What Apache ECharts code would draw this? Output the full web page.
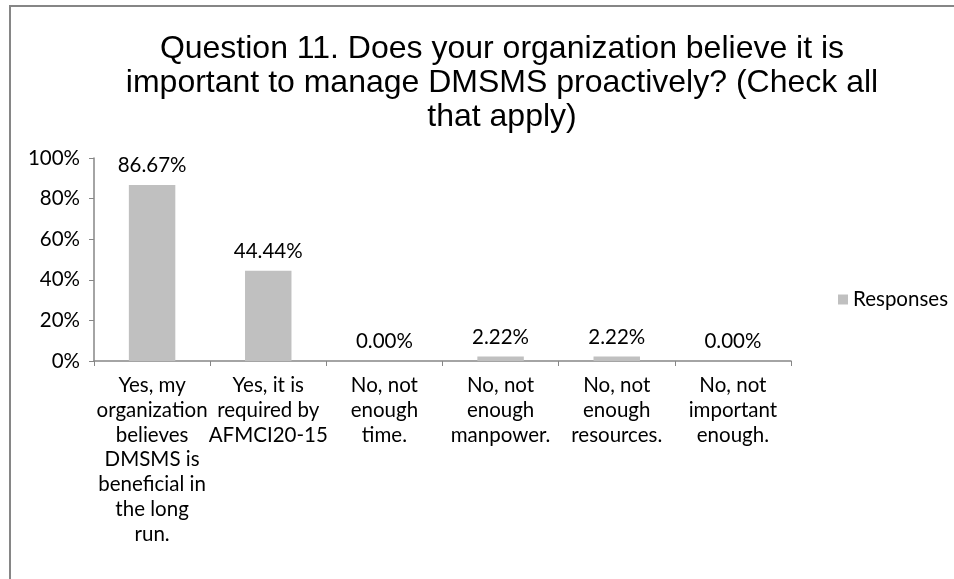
<!DOCTYPE html>
<html>
<head>
<meta charset="utf-8">
<script src="https://cdn.jsdelivr.net/npm/echarts@6/dist/echarts.min.js"></script>
<style>
  html, body { margin: 0; padding: 0; background: #fff; }
  #chart { width: 954px; height: 579px; }
</style>
</head>
<body>
<div id="chart"></div>
<script>
// Survey answers for question 11
const categories = [
  'Yes, my\norganization\nbelieves\nDMSMS is\nbeneficial in\nthe long\nrun.',
  'Yes, it is\nrequired by\nAFMCI20-15',
  'No, not\nenough\ntime.',
  'No, not\nenough\nmanpower.',
  'No, not\nenough\nresources.',
  'No, not\nimportant\nenough.'
];
const responses = [86.67, 44.44, 0.00, 2.22, 2.22, 0.00];
const seriesName = 'Responses';
const titleText = 'Question 11. Does your organization believe it is\nimportant to manage DMSMS proactively? (Check all\nthat apply)';

const labelFont = 'Lato, "Open Sans", sans-serif';
const labelSize = 20.5;
const axisGray = '#868686';

const chart = echarts.init(document.getElementById('chart'));
chart.setOption({
  animation: false,
  backgroundColor: '#ffffff',
  graphic: [{
    type: 'rect',
    shape: { x: 10, y: 6, width: 1200, height: 1200 },
    style: { fill: 'none', stroke: axisGray, lineWidth: 2 },
    silent: true
  }],
  title: {
    text: titleText,
    left: 497,
    top: 27,
    textAlign: 'center',
    textStyle: {
      fontFamily: '"Liberation Sans", Arial, sans-serif',
      fontWeight: 'normal',
      fontSize: 32,
      lineHeight: 34,
      color: '#000'
    }
  },
  legend: {
    data: [seriesName],
    left: 833,
    top: 284,
    itemWidth: 10,
    itemHeight: 10,
    itemGap: 6,
    icon: 'rect',
    textStyle: { fontFamily: labelFont, fontSize: labelSize, color: '#000' }
  },
  grid: { left: 94, right: 163, top: 158, bottom: 218, containLabel: false },
  xAxis: {
    type: 'category',
    data: categories,
    boundaryGap: true,
    axisLine: { lineStyle: { color: axisGray, width: 1.5 } },
    axisTick: { show: true, length: 5, alignWithLabel: false, lineStyle: { color: axisGray } },
    axisLabel: {
      interval: 0,
      margin: 12,
      fontFamily: labelFont,
      fontSize: labelSize,
      lineHeight: 24.8,
      color: '#000',
      align: 'center'
    }
  },
  yAxis: {
    type: 'value',
    min: 0,
    max: 100,
    interval: 20,
    axisLine: { show: true, lineStyle: { color: axisGray, width: 1.5 } },
    axisTick: { show: true, length: 5, lineStyle: { color: axisGray } },
    splitLine: { show: false },
    axisLabel: {
      formatter: '{value}%',
      margin: 14,
      fontFamily: labelFont,
      fontSize: labelSize,
      color: '#000'
    }
  },
  series: [{
    name: seriesName,
    type: 'bar',
    data: responses,
    barWidth: '40%',
    itemStyle: { color: '#c0c0c0' },
    label: {
      show: true,
      position: 'top',
      distance: 9,
      formatter: p => p.value.toFixed(2) + '%',
      fontFamily: labelFont,
      fontSize: labelSize,
      color: '#000'
    }
  }]
});
</script>
</body>
</html>
